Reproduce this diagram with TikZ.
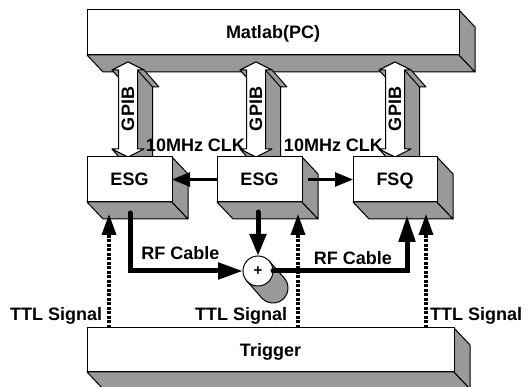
\documentclass[tikz,border=0pt]{standalone}
\usepackage{fontspec}
\setmainfont{Liberation Sans}
\usetikzlibrary{arrows.meta,calc}
\definecolor{extr}{RGB}{153,153,153}
\newcommand\threedbox[6]{%
  \filldraw[extrface] ({#2-#4/2},{#3+#5/2}) -- ++(#4,0) -- ++(16,17) -- ++(-#4,0) -- cycle;
  \filldraw[extrface] ({#2+#4/2},{#3-#5/2}) -- ++(16,17) -- ++(0,#5) -- ++(-16,-17) -- cycle;
  \node[box, minimum width=#4, minimum height=#5] (#1) at (#2,#3) {#6};
}
\newcommand\gpibarrow[2]{%
  \filldraw[extrface] ({#2-16},70) -- (#2,62) -- ({#2+16},70) -- ({#2+31},87) -- ({#2+24.5},87)
    -- ({#2+24.5},166) -- ({#2+31},166) -- ({#2+15},174) -- ({#2-1},166) -- ({#2-16},149)
    -- (#2,157) -- (#2,87) -- ({#2-1},87) -- cycle;
  \draw[line width=1pt] ({#2+9.5},70) -- ({#2+24.5},87);
  \filldraw[fill=white, draw=black, line width=1pt, line join=round] (#2,62) -- ({#2+16},70) -- ({#2+9.5},70)
    -- ({#2+9.5},149) -- ({#2+16},149) -- (#2,157) -- ({#2-16},149) -- ({#2-9.5},149)
    -- ({#2-9.5},70) -- ({#2-16},70) -- cycle;
  \node[lbl, rotate=90] (#1) at (#2,109) {GPIB};
}
\begin{document}
\begin{tikzpicture}[x=1pt,y=-1pt,
  every node/.style={font=\bfseries\fontsize{18}{20}\selectfont},
  box/.style={draw, fill=white, line width=1pt, inner sep=0pt, outer sep=0pt,
    text height=12.9pt, text depth=0pt},
  extrface/.style={fill=extr, draw=black, line width=1pt, line join=round},
  lbl/.style={inner sep=0pt},
  clk/.style={line width=2.5pt, -{Triangle[length=18pt,width=14pt]}},
  rf/.style={line width=5pt, -{Triangle[length=25pt,width=16pt]}},
  ttl/.style={line width=3.5pt, dash pattern=on 3pt off 1.5pt,
    -{Triangle[length=21pt,width=14pt]}},
]
\useasboundingbox (0,0) rectangle (528,387);

\threedbox{matlab}{273}{32.5}{372}{45}{Matlab(PC)}

\gpibarrow{g1}{128}
\gpibarrow{g2}{256}
\gpibarrow{g3}{395}

\threedbox{esg1}{129.5}{179.5}{85}{45}{ESG}
\threedbox{esg2}{259.5}{179.5}{85}{45}{ESG}
\threedbox{fsq}{395}{179.5}{84}{45}{FSQ}
\threedbox{trigger}{270.5}{350}{367}{44}{Trigger}

% clock arrows
\draw[clk] (esg2.west) -- (esg1.east);
\draw[clk] ([xshift=6]esg2.east) -- (fsq.west);

% summing junction (cylinder)
\filldraw[extrface] (273,288) circle[radius=15];
\fill[extr] (269.25,261.08) -- (284.25,278.08) -- (261.75,297.92) -- (246.75,280.92) -- cycle;
\draw[line width=1pt] (269.25,261.08) -- (284.25,278.08) (246.75,280.92) -- (261.75,297.92);
\node[draw, circle, fill=white, minimum size=30, inner sep=0pt, outer sep=0pt, line width=1pt,
  font=\bfseries\fontsize{15}{16}\selectfont] (sum) at (258,271) {+};

% RF cables
\draw[rf, line cap=round] ([shift={(0.5,11)}]esg1.south) |- (sum.west);
\draw[rf, -{Triangle[length=22pt,width=16pt]}, line cap=round] ([shift={(-1.5,10)}]esg2.south) -- (sum.north);
\draw[rf, -{Triangle[length=27pt,width=16pt]}, line cap=round] (sum.east) -| ([shift={(12,13)}]fsq.south);

% TTL signals
\draw[ttl] ([xshift=-161.5]trigger.north) -- ([shift={(-20.5,12)}]esg1.south);
\draw[ttl] ([xshift=27.5]trigger.north) -- ([shift={(38.5,12)}]esg2.south);
\draw[ttl] ([xshift=155.5]trigger.north) -- ([shift={(31,12)}]fsq.south);

% labels
\node[lbl] (clk1) at (195.5,145) {10MHz CLK};
\node[lbl] (clk2) at (333.5,145) {10MHz CLK};
\node[lbl] (rf1) at (180.5,253.5) {RF Cable};
\node[lbl] (rf2) at (353,258.5) {RF Cable};
\node[lbl, anchor=base west] (ttl1) at (10,321) {TTL Signal};
\node[lbl, anchor=base west] (ttl2) at (195,321) {TTL Signal};
\node[lbl, anchor=base west] (ttl3) at (430,321) {TTL Signal};
\end{tikzpicture}
\end{document}
